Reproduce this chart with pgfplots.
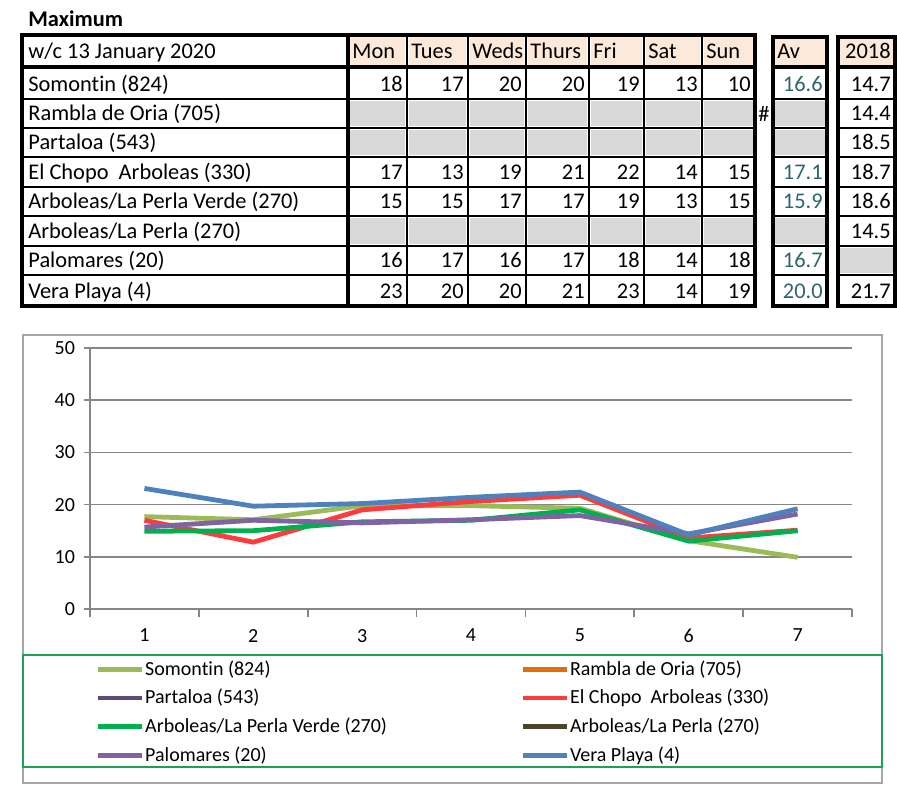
\documentclass[border=0pt]{standalone}
\usepackage{fontspec}
\setmainfont{Carlito}[Ligatures=NoCommon]
\usepackage{pgfplots}
\pgfplotsset{compat=1.18}
\definecolor{peach}{HTML}{FDE9D9}
\definecolor{cellgray}{HTML}{D9D9D9}
\definecolor{avteal}{HTML}{2E6470}
\definecolor{axgray}{HTML}{868686}
\definecolor{frame}{HTML}{A6A6A6}
\definecolor{legframe}{HTML}{1FA055}
\definecolor{cSom}{HTML}{9BBB59}
\definecolor{cRam}{HTML}{E46C0A}
\definecolor{cPar}{HTML}{604A7B}
\definecolor{cCho}{HTML}{FF3B3B}
\definecolor{cVer}{HTML}{00B050}
\definecolor{cPer}{HTML}{4A452A}
\definecolor{cPal}{HTML}{8064A2}
\definecolor{cVera}{HTML}{4F81BD}

% table geometry, in pixels of the reference (x right, y down)
\def\colL{{348,407,468,526,589,644,702}}
\def\colR{{407,468,526,589,644,702,755}}
\def\rowT{{67,99,128,157,187,216,246,275}}
\def\rowB{{99,128,157,187,216,246,275,306}}
\newcommand\tfont{\fontsize{11.2}{13}\selectfont}
\newcommand\cfont{\fontsize{10}{12}\selectfont}

% #1 row, #2 name, #3 values (empty = grey), #4 average, #5 2018
\newcommand\trow[5]{%
  \pgfmathsetmacro\yt{\rowT[#1-1]}%
  \pgfmathsetmacro\yb{\rowB[#1-1]}%
  \node[anchor=base west,inner sep=0pt,font=\tfont] at (28,\yb-7.5) {#2};
  \ifx&#3&%
    \foreach \c in {1,...,7}{%
      \pgfmathsetmacro\xl{\colL[\c-1]}\pgfmathsetmacro\xr{\colR[\c-1]}%
      \fill[cellgray] (\xl+2,\yt+2) rectangle (\xr-2,\yb-2);}
  \else
    \foreach \v [count=\c] in {#3}{%
      \pgfmathsetmacro\xr{\colR[\c-1]}%
      \node[anchor=base east,inner sep=0pt,font=\tfont] at (\xr-4,\yb-7.5) {\v};}
  \fi
  \ifx&#4&%
    \fill[cellgray] (775,\yt+2) rectangle (825,\yb-2);
  \else
    \node[anchor=base east,inner sep=0pt,font=\tfont,text=avteal] at (823,\yb-7.5) {#4};
  \fi
  \ifx&#5&%
    \fill[cellgray] (840,\yt+2) rectangle (893,\yb-2);
  \else
    \node[anchor=base east,inner sep=0pt,font=\tfont] at (891,\yb-7.5) {#5};
  \fi
}

\begin{document}
\begin{tikzpicture}
\begin{scope}[x=0.5pt,y=-0.5pt,yshift=400pt]
  \useasboundingbox (0,0) rectangle (897,800);
  \node[anchor=base west,inner sep=0pt,font=\tfont\bfseries] at (28,27) {Maximum};
  % header
  \foreach \d [count=\c] in {Mon,Tues,Weds,Thurs,Fri,Sat,Sun}{%
    \pgfmathsetmacro\xl{\colL[\c-1]}\pgfmathsetmacro\xr{\colR[\c-1]}%
    \fill[peach] (\xl+2,37) rectangle (\xr-2,65);
    \node[anchor=base west,inner sep=0pt,font=\tfont] at (\xl+4,59) {\d};}
  \fill[peach] (775,38) rectangle (825,65);
  \fill[peach] (840,38) rectangle (893,65);
  \node[anchor=base west,inner sep=0pt,font=\tfont] at (28,59) {w/c 13 January 2020};
  \node[anchor=base west,inner sep=0pt,font=\tfont] at (777,59) {Av};
  \node[anchor=base east,inner sep=0pt,font=\tfont] at (891,59) {2018};
  % rows
  \trow{1}{Somontin (824)}{18,17,20,20,19,13,10}{16.6}{14.7}
  \trow{2}{Rambla de Oria (705)}{}{}{14.4}
  \trow{3}{Partaloa (543)}{}{}{18.5}
  \trow{4}{El Chopo~~Arboleas (330)}{17,13,19,21,22,14,15}{17.1}{18.7}
  \trow{5}{Arboleas/La Perla Verde (270)}{15,15,17,17,19,13,15}{15.9}{18.6}
  \trow{6}{Arboleas/La Perla (270)}{}{}{14.5}
  \trow{7}{Palomares (20)}{16,17,16,17,18,14,18}{16.7}{}
  \trow{8}{Vera Playa (4)}{23,20,20,21,23,14,19}{20.0}{21.7}
  \node[anchor=base,inner sep=0pt,font=\tfont] at (764,121) {\#};
  % grid lines
  \foreach \y in {99,128,157,187,216,246,275}{%
    \draw[line width=1pt] (22,\y) -- (755,\y);
    \draw[line width=1pt] (773,\y) -- (827,\y);
    \draw[line width=1pt] (838,\y) -- (895,\y);}
  \foreach \x in {407,468,526,589,644,702}
    \draw[line width=1pt] (\x,35) -- (\x,306);
  \draw[line width=2.4pt] (22,67) -- (755,67);
  \draw[line width=2.4pt] (348,35) -- (348,306);
  \draw[line width=2.2pt] (22,35) rectangle (755,306);
  \draw[line width=1.5pt] (773,67) -- (827,67);
  \draw[line width=1.5pt] (838,67) -- (895,67);
  \draw[line width=1.6pt] (773,37) rectangle (827,306);
  \draw[line width=1.6pt] (838,37) rectangle (895,306);
  % chart frame and legend frame
  \draw[frame,line width=0.9pt] (23,335) rectangle (882,783);
  \draw[legframe,line width=0.9pt] (23,655) rectangle (882,767);
\end{scope}

\begin{axis}[
  at={(45pt,95.5pt)}, anchor=south west,
  scale only axis, width=381pt, height=130.5pt,
  xmin=0.5, xmax=7.5, ymin=0, ymax=50,
  xtick={1,...,7}, ytick={0,10,...,50},
  minor xtick={0.5,1.5,...,7.5},
  axis lines*=left,
  axis line style={draw=axgray, line width=0.8pt},
  ymajorgrids, grid style={draw=axgray, line width=0.8pt},
  major x tick style={draw=none},
  minor x tick style={draw=axgray, line width=0.8pt},
  major y tick style={draw=axgray, line width=0.8pt},
  tick align=outside, major tick length=3pt, minor tick length=4pt,
  tick label style={font=\cfont},
  xticklabel style={yshift=-3.5pt},
  yticklabel style={xshift=-1pt},
  /pgf/number format/assume math mode=true,
  clip=false,
  every axis plot/.append style={line width=2.4pt, line join=round, mark=none},
  legend columns=2,
  legend cell align=left,
  legend image code/.code={\draw[#1,line width=2.4pt] (0pt,0pt) -- (22pt,0pt);},
  legend style={at={(axis description cs:0,0)}, anchor=north west,
    xshift=2.5pt, yshift=-24.5pt, draw=none, fill=none, inner sep=0pt,
    font=\cfont, column sep=0pt,
    /tikz/every even row/.style={},
    nodes={inner xsep=0.5pt, inner ysep=1pt}},
  legend style={/tikz/row sep=3.6pt},
]
\addplot[cSom] coordinates {(1,17.7) (2,17.1) (3,19.8) (4,19.8) (5,19.3) (6,13.1) (7,9.9)};
\addlegendentry{\makebox[187pt][l]{Somontin (824)}}
\addlegendimage{cRam}
\addlegendentry{Rambla de Oria (705)}
\addlegendimage{cPar}
\addlegendentry{\makebox[187pt][l]{Partaloa (543)}}
\addplot[cCho] coordinates {(1,17.0) (2,12.8) (3,19.0) (4,20.6) (5,21.8) (6,13.6) (7,15.1)};
\addlegendentry{El Chopo~~Arboleas (330)}
\addplot[cVer] coordinates {(1,14.9) (2,15.0) (3,16.7) (4,17.0) (5,19.0) (6,13.0) (7,15.0)};
\addlegendentry{\makebox[187pt][l]{Arboleas/La Perla Verde (270)}}
\addlegendimage{cPer}
\addlegendentry{Arboleas/La Perla (270)}
\addplot[cPal] coordinates {(1,15.7) (2,17.0) (3,16.5) (4,17.1) (5,17.9) (6,14.4) (7,18.2)};
\addlegendentry{\makebox[187pt][l]{Palomares (20)}}
\addplot[cVera] coordinates {(1,23.1) (2,19.7) (3,20.2) (4,21.4) (5,22.4) (6,14.2) (7,19.2)};
\addlegendentry{Vera Playa (4)}
\end{axis}
\end{tikzpicture}
\end{document}
